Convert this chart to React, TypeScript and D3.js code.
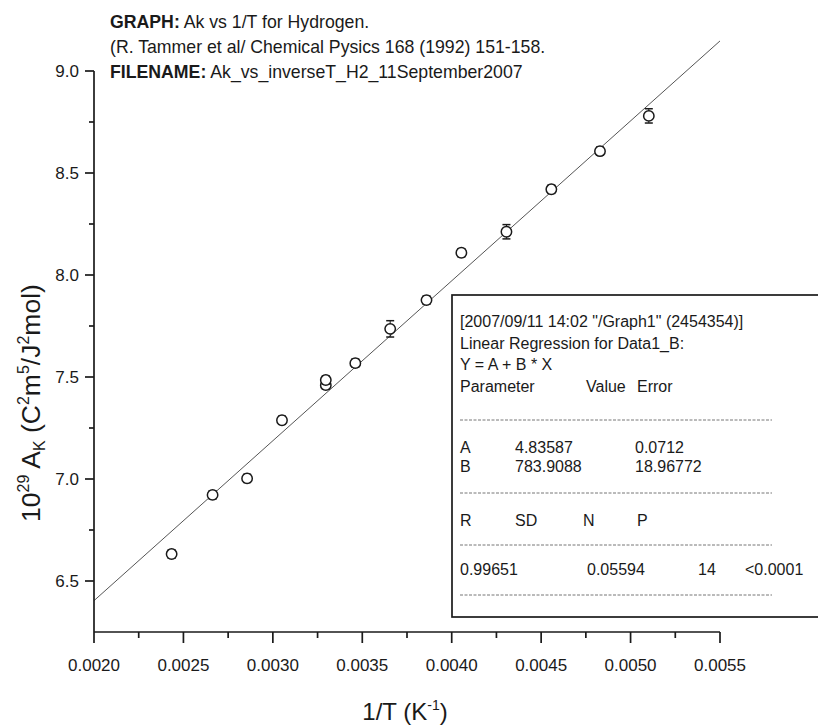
import React from "react";
import * as d3 from "d3";

const invT = [0.002434, 0.002663, 0.002856, 0.003051, 0.003296, 0.003296, 0.003461, 0.003656, 0.003859, 0.004054, 0.004306, 0.004557, 0.004829, 0.005102];
const ak = [6.632, 6.922, 7.003, 7.288, 7.46, 7.485, 7.568, 7.736, 7.877, 8.109, 8.212, 8.42, 8.607, 8.78];
const akErr = [0.02, 0.02, 0.02, 0.02, 0.02, 0.02, 0.02, 0.04, 0.02, 0.02, 0.035, 0.02, 0.02, 0.035];
const fitA = 4.83587;
const fitB = 783.9088;
const xMajor = [0.002, 0.0025, 0.003, 0.0035, 0.004, 0.0045, 0.005, 0.0055];
const xMinor = [0.00225, 0.00275, 0.00325, 0.00375, 0.00425, 0.00475, 0.00525];
const yMajor = [6.5, 7.0, 7.5, 8.0, 8.5, 9.0];
const yMinor = [6.75, 7.25, 7.75, 8.25, 8.75];
const xTickLabels = ["0.0020", "0.0025", "0.0030", "0.0035", "0.0040", "0.0045", "0.0050", "0.0055"];
const yTickLabels = ["6.5", "7.0", "7.5", "8.0", "8.5", "9.0"];

const FONT = "'Liberation Sans', Arial, Helvetica, sans-serif";
const INK = "#1a1a1a";

export default function App() {
  const x = d3.scaleLinear().domain([0.002, 0.0055]).range([94, 720]);
  const y = d3.scaleLinear().domain([6.25, 9.0]).range([632, 71]);
  const fitLine = d3.line<number>().x((v) => x(v)).y((v) => y(fitA + fitB * v));
  const fitXs = [0.002, 0.0055];

  const boxX = 452;
  const boxY = 295;
  const boxW = 380;
  const boxH = 322;
  const tx = 460;
  const dashX2 = 772;

  return (
    <svg width={818} height={727} style={{ position: "absolute", left: 0, top: 0, background: "#fff" }} fontFamily={FONT}>
      <rect x={0} y={0} width={818} height={727} fill="#fff" />
      {/* header */}
      <g fill={INK} fontSize={17.7}>
        <text x={110} y={28}>
          <tspan fontWeight="bold">GRAPH:</tspan> Ak vs 1/T for Hydrogen.
        </text>
        <text x={110} y={53}>(R. Tammer et al/ Chemical Pysics 168 (1992) 151-158.</text>
        <text x={110} y={78}>
          <tspan fontWeight="bold">FILENAME:</tspan> Ak_vs_inverseT_H2_11September2007
        </text>
      </g>

      {/* fit line */}
      <path d={fitLine(fitXs) || ""} fill="none" stroke="#555" strokeWidth={1} />

      {/* axes */}
      <g stroke={INK} strokeWidth={1.7} fill="none">
        <line x1={94} y1={y(9.0)} x2={94} y2={632} />
        <line x1={94} y1={632} x2={720} y2={632} />
        {xMajor.map((v, i) => (
          <line key={"xM" + i} x1={x(v)} x2={x(v)} y1={632} y2={643} />
        ))}
        {xMinor.map((v, i) => (
          <line key={"xm" + i} x1={x(v)} x2={x(v)} y1={632} y2={638} />
        ))}
        {yMajor.map((v, i) => (
          <line key={"yM" + i} x1={85} x2={94} y1={y(v)} y2={y(v)} />
        ))}
        {yMinor.map((v, i) => (
          <line key={"ym" + i} x1={89} x2={94} y1={y(v)} y2={y(v)} />
        ))}
      </g>
      <g fill={INK} fontSize={17}>
        {xMajor.map((v, i) => (
          <text key={"xl" + i} x={x(v)} y={671} textAnchor="middle">
            {xTickLabels[i]}
          </text>
        ))}
        {yMajor.map((v, i) => (
          <text key={"yl" + i} x={79} y={y(v)} textAnchor="end" dominantBaseline="central">
            {yTickLabels[i]}
          </text>
        ))}
      </g>

      {/* axis titles */}
      <text x={405} y={720} textAnchor="middle" fontSize={24} fill={INK}>
        1/T (K<tspan dy={-10} fontSize={14}>-1</tspan>
        <tspan dy={10}>)</tspan>
      </text>
      <text transform="translate(40,403) rotate(-90)" textAnchor="middle" fontSize={26.5} fill={INK}>
        10<tspan dy={-11} fontSize={16}>29</tspan>
        <tspan dy={11}> A</tspan>
        <tspan dy={5} fontSize={16}>K</tspan>
        <tspan dy={-5}> (C</tspan>
        <tspan dy={-11} fontSize={16}>2</tspan>
        <tspan dy={11}>m</tspan>
        <tspan dy={-11} fontSize={16}>5</tspan>
        <tspan dy={11}>/J</tspan>
        <tspan dy={-11} fontSize={16}>2</tspan>
        <tspan dy={11}>mol)</tspan>
      </text>

      {/* data points with error bars */}
      <g stroke={INK} fill="none" strokeWidth={1.5}>
        {invT.map((v, i) => {
          const cx = x(v);
          const cy = y(ak[i]);
          const yt = y(ak[i] + akErr[i]);
          const yb = y(ak[i] - akErr[i]);
          return (
            <g key={"p" + i}>
              <line x1={cx} x2={cx} y1={yt} y2={yb} strokeWidth={1} />
              <line x1={cx - 4} x2={cx + 4} y1={yt} y2={yt} />
              <line x1={cx - 4} x2={cx + 4} y1={yb} y2={yb} />
              <circle cx={cx} cy={cy} r={5.2} fill="#fff" />
            </g>
          );
        })}
      </g>

      {/* regression box */}
      <rect x={boxX} y={boxY} width={boxW} height={boxH} fill="#fff" stroke={INK} strokeWidth={1.7} />
      <g fill={INK} fontSize={16} dominantBaseline="central">
        <text x={tx} y={321}>[2007/09/11 14:02 "/Graph1" (2454354)]</text>
        <text x={tx} y={343}>Linear Regression for Data1_B:</text>
        <text x={tx} y={364}>Y = A + B * X</text>
        <text x={tx} y={386}>Parameter</text>
        <text x={586} y={386}>Value</text>
        <text x={637} y={386}>Error</text>
        <text x={tx} y={447}>A</text>
        <text x={515} y={447}>4.83587</text>
        <text x={635} y={447}>0.0712</text>
        <text x={tx} y={466}>B</text>
        <text x={515} y={466}>783.9088</text>
        <text x={635} y={466}>18.96772</text>
        <text x={tx} y={520}>R</text>
        <text x={515} y={520}>SD</text>
        <text x={583} y={520}>N</text>
        <text x={637} y={520}>P</text>
        <text x={tx} y={569}>0.99651</text>
        <text x={587} y={569}>0.05594</text>
        <text x={698} y={569}>14</text>
        <text x={745} y={569}>&lt;0.0001</text>
      </g>
      <g stroke="#777" strokeWidth={1} strokeDasharray="3,1.5">
        {[420, 493, 545, 595].map((yy, i) => (
          <line key={"d" + i} x1={tx} x2={dashX2} y1={yy} y2={yy} />
        ))}
      </g>
    </svg>
  );
}
